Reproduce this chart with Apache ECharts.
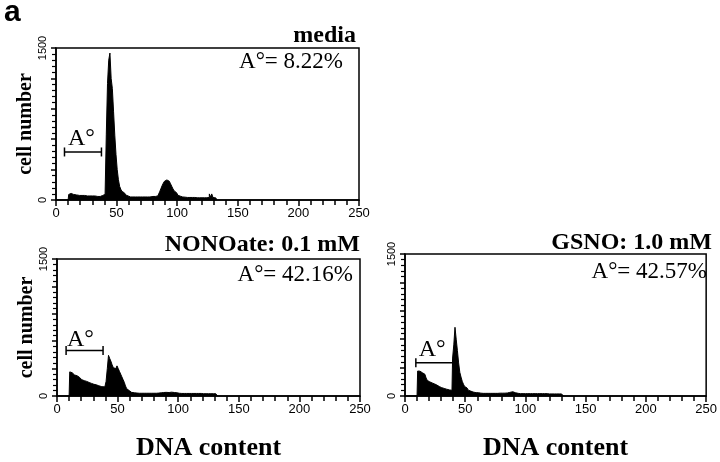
<!DOCTYPE html>
<html>
<head>
<meta charset="utf-8">
<script src="https://cdn.jsdelivr.net/npm/echarts@6/dist/echarts.min.js"></script>
<style>
  html, body { margin: 0; padding: 0; background: #fff; }
  #chart { width: 720px; height: 462px; }
</style>
</head>
<body>
<div id="chart"></div>
<script>
// DNA histograms, values per channel (channel 0 .. n), cell counts
var mediaCounts = [
    0, 0, 0, 0, 0, 0, 0, 0, 0, 0,
    0, 55, 65, 60, 55, 50, 50, 50, 45, 45,
    50, 45, 45, 40, 45, 40, 40, 45, 40, 40,
    40, 35, 40, 40, 35, 40, 35, 40, 40, 45,
    55, 60, 650, 1150, 1380, 1450, 1200, 1100, 870, 640,
    450, 300, 200, 135, 105, 85, 70, 60, 50, 45,
    40, 35, 30, 30, 30, 30, 30, 30, 30, 30,
    30, 30, 30, 30, 30, 30, 30, 30, 30, 35,
    35, 35, 35, 38, 40, 55, 80, 110, 140, 165,
    185, 198, 205, 200, 185, 160, 135, 110, 90, 72,
    58, 48, 42, 38, 34, 30, 28, 25, 25, 25,
    25, 25, 25, 25, 25, 22, 22, 22, 22, 22,
    22, 22, 22, 22, 22, 22, 25, 60, 30, 60,
    25, 20, 20, 0
];

var nonoateCounts = [
    0, 0, 0, 0, 0, 0, 0, 0, 0, 0,
    0, 264, 255, 245, 238, 230, 222, 215, 205, 190,
    185, 178, 172, 168, 160, 155, 148, 140, 138, 132,
    128, 125, 122, 118, 112, 108, 105, 102, 105, 100,
    110, 160, 300, 445, 410, 380, 340, 310, 300, 320,
    330, 300, 270, 240, 210, 180, 150, 110, 80, 60,
    50, 45, 40, 35, 35, 35, 32, 32, 30, 30,
    30, 30, 30, 30, 30, 30, 30, 30, 30, 30,
    30, 30, 30, 32, 32, 35, 35, 38, 38, 40,
    40, 42, 38, 40, 42, 38, 40, 38, 35, 35,
    32, 30, 30, 28, 28, 28, 28, 28, 28, 28,
    28, 28, 28, 28, 28, 28, 28, 28, 28, 28,
    25, 25, 25, 25, 25, 25, 25, 25, 25, 25,
    25, 25, 25, 0
];

var gsnoCounts = [
    0, 0, 0, 0, 0, 0, 0, 0, 0, 0,
    0, 264, 262, 258, 255, 245, 230, 215, 190, 165,
    150, 145, 138, 132, 128, 123, 115, 108, 100, 95,
    88, 84, 80, 76, 72, 68, 66, 64, 62, 60,
    400, 540, 726, 600, 480, 350, 250, 200, 155, 125,
    100, 85, 72, 62, 52, 46, 42, 40, 35, 35,
    35, 35, 32, 30, 30, 28, 28, 28, 28, 28,
    28, 28, 28, 28, 28, 28, 28, 28, 28, 30,
    30, 30, 30, 30, 32, 32, 35, 38, 42, 45,
    45, 40, 35, 30, 28, 28, 25, 25, 25, 25,
    25, 25, 25, 25, 25, 25, 25, 25, 25, 25,
    25, 25, 25, 25, 25, 25, 25, 25, 25, 25,
    22, 22, 22, 22, 22, 22, 22, 22, 22, 22,
    22, 22, 0
];

var panelTitles = ['media', 'NONOate: 0.1 mM', 'GSNO: 1.0 mM'];
var apoLabels = ['A\u00b0= 8.22%', 'A\u00b0= 42.16%', 'A\u00b0= 42.57%'];

// A° gate: [from, to] channel, height of bracket, label position
var gateRanges = [[7, 37.5], [7.5, 38], [9, 40]];
var gateLevels = [474, 497, 350];
var gateLabelPos = [[21, 600], [19.3, 620], [22.5, 490]];

var xTickLabels = [0, 50, 100, 150, 200, 250];
var yTickLabels = [0, 1500];

var serif = '"Liberation Serif", "Times New Roman", serif';
var sans = '"Liberation Sans", Arial, sans-serif';

var myChart = echarts.init(document.getElementById('chart'));

var grids = [
    {left: 56, top: 48, width: 303, height: 152},
    {left: 57, top: 259, width: 303, height: 157},
    {left: 405, top: 254, width: 305, height: 159}
];

var counts = [mediaCounts, nonoateCounts, gsnoCounts];

var xAxes = [], yAxes = [], series = [];

grids.forEach(function (g, i) {
    g.show = true;
    g.borderColor = '#000';
    g.borderWidth = 1.5;
    g.backgroundColor = 'transparent';

    xAxes.push({
        type: 'value',
        gridIndex: i,
        min: xTickLabels[0],
        max: xTickLabels[xTickLabels.length - 1],
        interval: 50,
        name: i > 0 ? 'DNA content' : '',
        nameLocation: 'middle',
        nameGap: 39,
        nameTextStyle: {fontFamily: serif, fontWeight: 'bold', fontSize: 26, color: '#000'},
        axisLine: {show: true, onZero: false, lineStyle: {color: '#000', width: 1.5}},
        axisTick: {show: true, length: 6, lineStyle: {color: '#000', width: 1.5}},
        minorTick: {show: true, splitNumber: 5, length: 5, lineStyle: {color: '#000', width: 1.5}},
        axisLabel: {fontFamily: sans, fontSize: 13, color: '#000', margin: 7},
        splitLine: {show: false}
    });

    yAxes.push({
        type: 'value',
        gridIndex: i,
        min: 0,
        max: 1500,
        interval: 300,
        name: i < 2 ? 'cell number' : '',
        nameLocation: 'middle',
        nameRotate: 90,
        nameGap: 18,
        nameTextStyle: {fontFamily: serif, fontWeight: 'bold', fontSize: 20, color: '#000'},
        axisLine: {show: true, lineStyle: {color: '#000', width: 1.5}},
        axisTick: {show: true, length: 5, lineStyle: {color: '#000', width: 1.5}},
        minorTick: {show: true, splitNumber: 5, length: 4, lineStyle: {color: '#000', width: 1.2}},
        axisLabel: {
            fontFamily: sans, fontSize: 11, color: '#000', rotate: 90, margin: 8,
            formatter: function (v) {
                return yTickLabels.indexOf(v) >= 0 ? String(v) : '';
            }
        },
        splitLine: {show: false}
    });

    // histogram
    series.push({
        type: 'line',
        xAxisIndex: i,
        yAxisIndex: i,
        step: 'middle',
        symbol: 'none',
        silent: true,
        data: counts[i].map(function (v, ch) { return [ch, v]; }),
        lineStyle: {color: '#000', width: 1},
        areaStyle: {color: '#000', opacity: 1}
    });

    // A° gate bracket
    series.push({
        type: 'line',
        xAxisIndex: i,
        yAxisIndex: i,
        symbol: 'rect',
        symbolSize: [1.5, 9],
        silent: true,
        data: gateRanges[i].map(function (x) { return [x, gateLevels[i]]; }),
        lineStyle: {color: '#000', width: 1.5},
        itemStyle: {color: '#000'}
    });

    // A° gate label
    series.push({
        type: 'scatter',
        xAxisIndex: i,
        yAxisIndex: i,
        symbolSize: 0,
        silent: true,
        data: [gateLabelPos[i]],
        itemStyle: {color: '#000', opacity: 1},
        label: {
            show: true, position: [0, 0], align: 'center', verticalAlign: 'middle',
            formatter: 'A\u00b0', fontFamily: serif, fontSize: 24, color: '#000',
            opacity: 1, textBorderWidth: 0
        }
    });
});

// panel titles and A° percentages
var titleSpots = [[356, 36, 343, 62], [360, 245, 353, 275], [712, 243, 707, 272]];
var texts = [{
    type: 'text', left: 4, top: -2,
    style: {text: 'a', font: 'bold 30px ' + sans, fill: '#000'}
}];
titleSpots.forEach(function (s, i) {
    texts.push({
        type: 'text', x: s[0], y: s[1],
        style: {text: panelTitles[i], font: 'bold 24px ' + serif, fill: '#000',
                textAlign: 'right', textVerticalAlign: 'middle'}
    });
    texts.push({
        type: 'text', x: s[2], y: s[3],
        style: {text: apoLabels[i], font: '23px ' + serif, fill: '#000',
                textAlign: 'right', textVerticalAlign: 'middle'}
    });
});

var option = {
    animation: false,
    backgroundColor: '#fff',
    grid: grids,
    xAxis: xAxes,
    yAxis: yAxes,
    series: series,
    graphic: texts
};

myChart.setOption(option);
</script>
</body>
</html>
